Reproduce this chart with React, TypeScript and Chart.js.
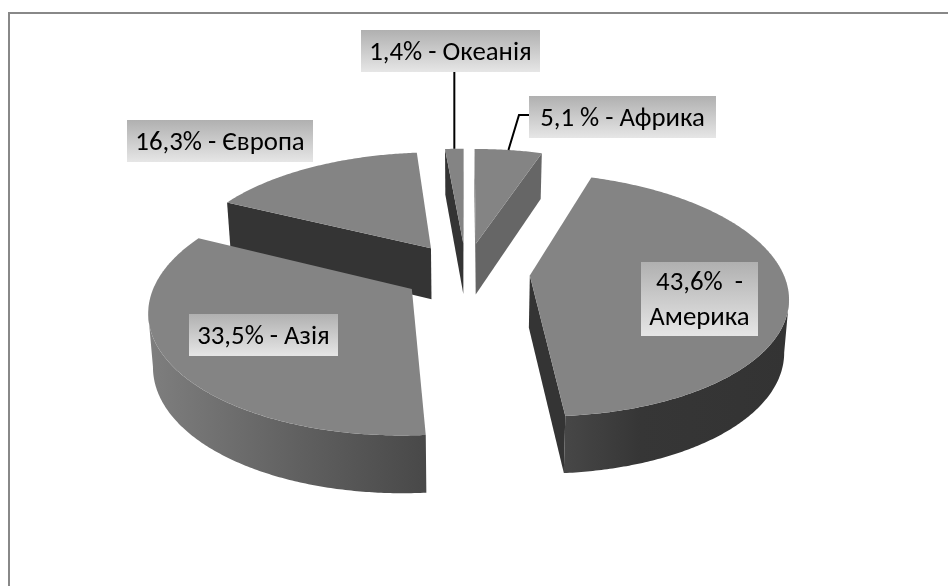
import React, { useEffect, useRef } from "react";
import { Chart, registerables } from "chart.js";

Chart.register(...registerables);

const categories = ["Африка", "Америка", "Азія", "Європа", "Океанія"];
const shares = [5.1, 43.6, 33.5, 16.3, 1.4];
const labelLines = [["5,1 % - Африка"], ["43,6%  -", "Америка"], ["33,5% - Азія"], ["16,3% - Європа"], ["1,4% - Океанія"]];

// label boxes: [left, top, right, bottom]
const boxes = [
  [529, 96, 716, 138],
  [641, 262, 758, 336],
  [189, 314, 338, 356],
  [127, 120, 313, 162],
  [361, 30, 540, 72],
];

const CX = 466;
const CY = 272;
const K = 0.000616;
const F = 0.465;
const FONT = "26.8px Carlito, Calibri, Lato, 'Open Sans', sans-serif";

type P = { x: number; y: number };
const project = (u: number, v: number): P => {
  const w = 1 / (1 - K * v);
  return { x: CX + u * w, y: CY + v * F * w };
};
const dropped = (u: number, v: number): P => {
  const p = project(u, v);
  return { x: CX + (p.x - CX) * 0.985, y: p.y + 52 + v * 0.02 };
};

const pie3d = {
  id: "pie3d",
  beforeDatasetsDraw(chart: any) {
    const ctx = chart.ctx;
    const arcs = chart.getDatasetMeta(0).data;
    const wallGrad = ctx.createLinearGradient(150, 0, 789, 0);
    [[150, "#7e7e7e"], [300, "#606060"], [428, "#484848"], [565, "#474747"], [640, "#363636"], [789, "#333333"]].forEach(([x, c]: any) =>
      wallGrad.addColorStop((x - 150) / 639, c)
    );
    const slices = arcs.map((arc: any, i: number) => {
      const mid = (arc.startAngle + arc.endAngle) / 2;
      const off = arc.options.offset;
      const ou = off * Math.cos(mid);
      const ov = off * Math.sin(mid);
      const rim: [number, number][] = [];
      const n = Math.max(4, Math.ceil((arc.endAngle - arc.startAngle) / 0.01));
      for (let k = 0; k <= n; k++) {
        const a = arc.startAngle + ((arc.endAngle - arc.startAngle) * k) / n;
        rim.push([ou + arc.outerRadius * Math.cos(a), ov + arc.outerRadius * Math.sin(a)]);
      }
      return { i, ou, ov, rim, color: arc.options.backgroundColor };
    });
    slices.sort((a: any, b: any) => a.ov - b.ov);
    const fillPoly = (pts: P[], fill: any) => {
      ctx.beginPath();
      pts.forEach((p, j) => (j ? ctx.lineTo(p.x, p.y) : ctx.moveTo(p.x, p.y)));
      ctx.closePath();
      ctx.fillStyle = fill;
      ctx.fill();
    };
    for (const s of slices) {
      const apex: [number, number] = [s.ou, s.ov];
      const side = s.i === 0 ? "#666666" : "#343434";
      const radial = (a: [number, number], b: [number, number]) => {
        const pa = project(a[0], a[1]);
        const pb = project(b[0], b[1]);
        if (pb.x < pa.x)
          fillPoly([pa, pb, dropped(b[0], b[1]), dropped(a[0], a[1])], side);
      };
      radial(apex, s.rim[0]);
      radial(s.rim[s.rim.length - 1], apex);
      // outer wall
      const vis: [number, number][] = [];
      for (let k = 0; k < s.rim.length; k++) {
        const cur = project(s.rim[k][0], s.rim[k][1]);
        const nb = s.rim[k + 1] ? project(s.rim[k + 1][0], s.rim[k + 1][1]) : null;
        const pv = s.rim[k - 1] ? project(s.rim[k - 1][0], s.rim[k - 1][1]) : null;
        if ((nb && nb.x < cur.x) || (pv && cur.x < pv.x)) vis.push(s.rim[k]);
      }
      if (vis.length > 1) {
        const top = vis.map((q) => project(q[0], q[1]));
        const bot = vis.map((q) => dropped(q[0], q[1])).reverse();
        fillPoly(top.concat(bot), wallGrad);
      }
      fillPoly([project(apex[0], apex[1]), ...s.rim.map((q: any) => project(q[0], q[1]))], s.color);
    }
    return false;
  },
  afterDraw(chart: any) {
    const ctx = chart.ctx;
    const arcs = chart.getDatasetMeta(0).data;
    ctx.save();
    ctx.fillStyle = "#888888";
    ctx.fillRect(8, 12, 940, 2);
    ctx.fillRect(8, 12, 2, 574);

    // leader lines
    const rimMid = (i: number) => {
      const arc = arcs[i];
      const mid = (arc.startAngle + arc.endAngle) / 2;
      const r = arc.options.offset + arc.outerRadius;
      return project(r * Math.cos(mid), r * Math.sin(mid));
    };
    ctx.strokeStyle = "#000000";
    ctx.lineWidth = 2;
    const oc = rimMid(4);
    ctx.beginPath();
    ctx.moveTo(oc.x, boxes[4][3]);
    ctx.lineTo(oc.x, oc.y);
    ctx.stroke();
    const af = rimMid(0);
    const midY = (boxes[0][1] + boxes[0][3]) / 2 - 2;
    ctx.beginPath();
    ctx.moveTo(boxes[0][0], midY);
    ctx.lineTo(boxes[0][0] - 10, midY);
    ctx.lineTo(af.x, af.y);
    ctx.stroke();

    // labels
    ctx.font = FONT;
    ctx.textAlign = "center";
    ctx.textBaseline = "middle";
    boxes.forEach(([l, t, r, b], i) => {
      const g = ctx.createLinearGradient(0, t, 0, b);
      g.addColorStop(0, "#b0b0b0");
      g.addColorStop(1, "#e6e6e6");
      ctx.fillStyle = g;
      ctx.fillRect(l, t, r - l, b - t);
      ctx.fillStyle = "#000000";
      const lines = labelLines[i];
      lines.forEach((line, j) => {
        const y = (t + b) / 2 + 2 + (j - (lines.length - 1) / 2) * 35;
        ctx.fillText(line, (l + r) / 2, y);
      });
    });
    ctx.restore();
  },
};

export default function App() {
  const ref = useRef<HTMLCanvasElement>(null);
  useEffect(() => {
    const chart = new Chart(ref.current as HTMLCanvasElement, {
      type: "pie",
      data: {
        labels: categories,
        datasets: [{ data: shares, backgroundColor: "#848484", borderWidth: 0, offset: 64 }],
      },
      options: {
        animation: false,
        responsive: false,
        radius: 253,
        plugins: { legend: { display: false }, tooltip: { enabled: false } },
      } as any,
      plugins: [pie3d as any],
    });
    return () => chart.destroy();
  }, []);
  return (
    <div style={{ position: "fixed", left: 0, top: 0, width: 948, height: 586, background: "#fff" }}>
      <canvas ref={ref} width={948} height={586} style={{ display: "block" }} />
    </div>
  );
}
